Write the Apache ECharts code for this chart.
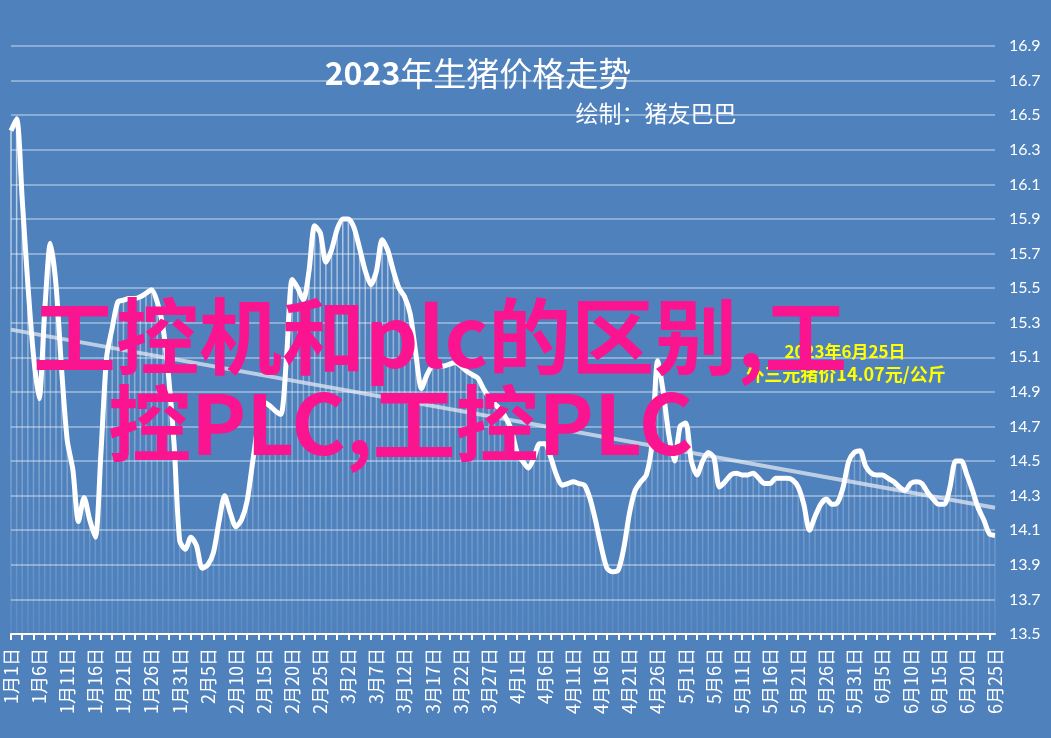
<!DOCTYPE html>
<html>
<head>
<meta charset="utf-8">
<script src="https://cdn.jsdelivr.net/npm/echarts@6/dist/echarts.min.js"></script>
<style>
html,body{margin:0;padding:0;background:#4f81bd;}
#chart{width:1051px;height:738px;}
</style>
</head>
<body>
<div id="chart"></div>
<script>
// ---- data ----
const monthLengths = [31, 28, 31, 30, 31, 25];
const categories = [];
monthLengths.forEach(function (n, i) {
  for (let d = 1; d <= n; d++) categories.push((i + 1) + '月' + d + '日');
});

const prices = [
  16.41, 16.48, 16.01, 15.52, 15.11, 14.86, 15.37, 15.76, 15.52, 15.03,
  14.62, 14.45, 14.15, 14.29, 14.16, 14.06, 14.55, 15.10, 15.27, 15.42,
  15.43, 15.44, 15.44, 15.45, 15.47, 15.49, 15.42, 15.28, 15.00, 14.60,
  14.04, 13.99, 14.06, 14.01, 13.88, 13.90, 13.97, 14.15, 14.30, 14.20,
  14.12, 14.16, 14.27, 14.50, 14.72, 14.84, 14.82, 14.79, 14.77, 15.10,
  15.55, 15.50, 15.43, 15.60, 15.86, 15.82, 15.65, 15.72, 15.84, 15.90,
  15.90, 15.85, 15.73, 15.60, 15.52, 15.60, 15.78, 15.72, 15.60, 15.50,
  15.45, 15.35, 15.12, 14.92, 15.00, 15.05, 15.05, 15.05, 15.06, 15.07,
  15.05, 15.02, 15.00, 14.98, 14.92, 14.87, 14.83, 14.80, 14.75, 14.68,
  14.55, 14.50, 14.46, 14.52, 14.60, 14.60, 14.52, 14.42, 14.36, 14.37,
  14.38, 14.37, 14.36, 14.28, 14.15, 14.00, 13.88, 13.86, 13.87, 14.00,
  14.20, 14.33, 14.38, 14.42, 14.60, 15.08, 14.90, 14.65, 14.50, 14.70,
  14.72, 14.50, 14.42, 14.50, 14.55, 14.52, 14.35, 14.38, 14.42, 14.43,
  14.42, 14.42, 14.43, 14.40, 14.37, 14.37, 14.40, 14.40, 14.40, 14.39,
  14.35, 14.25, 14.10, 14.18, 14.25, 14.28, 14.25, 14.26, 14.35, 14.50,
  14.55, 14.56, 14.47, 14.43, 14.42, 14.42, 14.40, 14.38, 14.35, 14.33,
  14.37, 14.38, 14.37, 14.32, 14.28, 14.25, 14.25, 14.35, 14.50, 14.50,
  14.42, 14.33, 14.23, 14.16, 14.08, 14.07
];

const trendStart = 15.26;
const trendEnd = 14.23;

const yTicks = [13.5, 13.7, 13.9, 14.1, 14.3, 14.5, 14.7, 14.9, 15.1, 15.3,
                15.5, 15.7, 15.9, 16.1, 16.3, 16.5, 16.7, 16.9];

const titleYear = '2023';
const titleRest = '年生猪价格走势';
const subtitleText = '绘制：猪友巴巴';
const noteLine1 = '2023年6月25日';
const noteLine2 = '外三元猪价14.07元/公斤';
const overlayLine1 = '工控机和plc的区别,工';
const overlayLine2 = '控PLC,工控PLC';

// ---- chart ----
const chart = echarts.init(document.getElementById('chart'));
const CJK = '"Noto Sans CJK SC", "Noto Sans", sans-serif';

const option = {
  backgroundColor: '#4f81bd',
  animation: false,
  grid: { left: 11, right: 56, top: 46, bottom: 104, containLabel: false },
  xAxis: {
    type: 'category',
    data: categories,
    boundaryGap: false,
    axisLine: { lineStyle: { color: '#ffffff', width: 2 } },
    axisTick: { interval: 1, length: 6, lineStyle: { color: '#ffffff', width: 2 } },
    axisLabel: { interval: 4, rotate: 90, color: '#ffffff', fontSize: 18, margin: 14, fontFamily: CJK },
    splitLine: { show: false }
  },
  yAxis: {
    type: 'value',
    position: 'right',
    min: 13.5,
    max: 16.9,
    interval: 0.1,
    axisLine: { show: false },
    axisTick: { show: false },
    splitLine: { show: false },
    axisLabel: {
      color: '#ffffff', fontSize: 16, margin: 14, fontFamily: 'Lato, "Open Sans", sans-serif',
      formatter: function (v) {
        const r = Math.round(v * 10) / 10;
        return yTicks.some(function (t) { return Math.abs(t - r) < 1e-6; }) ? r.toFixed(1) : '';
      }
    }
  },
  series: [
    {
      name: 'grid',
      type: 'line',
      data: [],
      z: 1,
      markLine: {
        silent: true,
        symbol: ['none', 'none'],
        label: { show: false },
        lineStyle: { color: 'rgba(255,255,255,0.35)', width: 2, type: 'solid' },
        data: yTicks.filter(function (t) { return t > 13.5; }).map(function (t) { return { yAxis: t }; })
      }
    },
    {
      name: 'bars',
      type: 'bar',
      data: prices,
      barWidth: 1.5,
      z: 2,
      itemStyle: {
        color: new echarts.graphic.LinearGradient(0, 46, 0, 634, [
          { offset: 0, color: 'rgba(255,255,255,0.85)' },
          { offset: 0.5, color: 'rgba(255,255,255,0.4)' },
          { offset: 1, color: 'rgba(255,255,255,0.08)' }
        ], true)
      }
    },
    {
      name: 'trend',
      type: 'line',
      data: [[categories[0], trendStart], [categories[categories.length - 1], trendEnd]],
      symbol: 'none',
      z: 3,
      lineStyle: { color: 'rgba(225,232,242,0.75)', width: 4 }
    },
    {
      name: 'price',
      type: 'line',
      data: prices,
      symbol: 'none',
      smooth: 0.25,
      z: 4,
      lineStyle: { color: '#ffffff', width: 5 }
    }
  ],
  graphic: [
    {
      type: 'text', x: 478, y: 73, z: 50,
      style: {
        text: '{b|' + titleYear + '}' + titleRest,
        align: 'center', verticalAlign: 'middle',
        fill: '#ffffff', fontSize: 33, fontFamily: CJK,
        rich: { b: { fontSize: 32, fontWeight: 'bold', fill: '#ffffff', fontFamily: CJK } }
      }
    },
    {
      type: 'text', x: 656, y: 113, z: 50,
      style: { text: subtitleText, align: 'center', verticalAlign: 'middle', fill: '#ffffff', fontSize: 23, fontFamily: CJK }
    },
    {
      type: 'text', x: 845, y: 352, z: 50,
      style: { text: noteLine1, align: 'center', verticalAlign: 'middle', fill: '#ffff00', fontSize: 17, fontWeight: 'bold', fontFamily: CJK }
    },
    {
      type: 'text', x: 846, y: 374, z: 50,
      style: { text: noteLine2, align: 'center', verticalAlign: 'middle', fill: '#ffff00', fontSize: 18, fontWeight: 'bold', fontFamily: CJK }
    },
    {
      type: 'text', x: 33, y: 336, z: 100,
      style: { text: overlayLine1, align: 'left', verticalAlign: 'middle', fill: '#fb1490', fontSize: 83, fontWeight: 'bold', fontFamily: CJK }
    },
    {
      type: 'text', x: 108, y: 423, z: 100,
      style: { text: overlayLine2, align: 'left', verticalAlign: 'middle', fill: '#fb1490', fontSize: 83, fontWeight: 'bold', fontFamily: CJK }
    }
  ]
};
chart.setOption(option);
</script>
</body>
</html>
